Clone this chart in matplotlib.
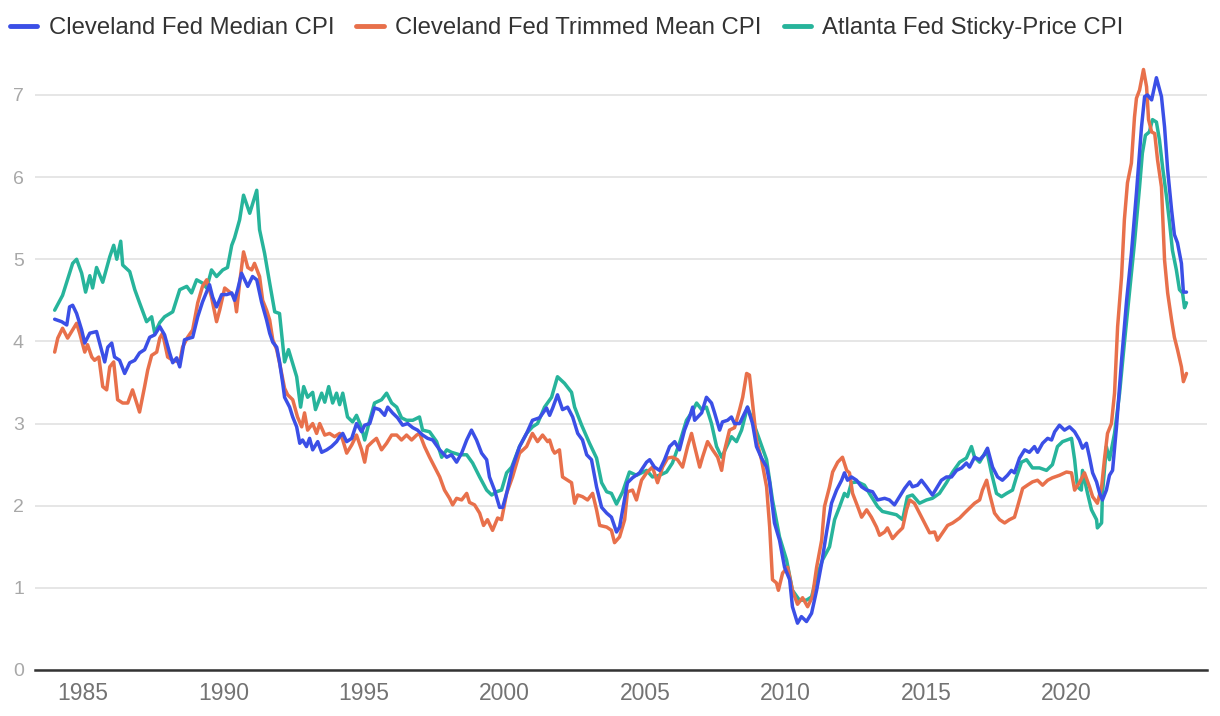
import matplotlib
matplotlib.use("Agg")
import matplotlib.pyplot as plt

plt.rcParams['font.family'] = ['Liberation Sans', 'DejaVu Sans']

# year-over-year inflation, %
median_years = [
    1984.00, 1984.25, 1984.43, 1984.53, 1984.64, 1984.78, 1984.96, 1985.07, 1985.25, 1985.49,
    1985.60, 1985.78, 1985.89, 1986.03, 1986.13, 1986.31, 1986.49, 1986.67, 1986.85, 1987.02,
    1987.20, 1987.38, 1987.56, 1987.74, 1987.91, 1988.09, 1988.20, 1988.34, 1988.45, 1988.62,
    1988.80, 1988.91, 1989.09, 1989.26, 1989.51, 1989.62, 1989.76, 1989.94, 1990.12, 1990.30,
    1990.40, 1990.51, 1990.65, 1990.76, 1990.87, 1991.04, 1991.19, 1991.36, 1991.54, 1991.65,
    1991.76, 1991.90, 1992.00, 1992.11, 1992.18, 1992.36, 1992.47, 1992.61, 1992.72, 1992.82,
    1992.96, 1993.07, 1993.18, 1993.36, 1993.50, 1993.68, 1993.85, 1994.03, 1994.14, 1994.25,
    1994.39, 1994.57, 1994.74, 1994.92, 1995.03, 1995.21, 1995.38, 1995.56, 1995.74, 1995.85,
    1996.02, 1996.20, 1996.38, 1996.56, 1996.74, 1996.91, 1997.09, 1997.27, 1997.45, 1997.70,
    1997.95, 1998.12, 1998.30, 1998.48, 1998.66, 1998.83, 1999.01, 1999.19, 1999.37, 1999.47,
    1999.65, 1999.83, 1999.94, 2000.08, 2000.29, 2000.54, 2000.79, 2001.00, 2001.25, 2001.50,
    2001.61, 2001.72, 2001.89, 2002.07, 2002.25, 2002.43, 2002.61, 2002.78, 2002.93, 2003.10,
    2003.28, 2003.46, 2003.64, 2003.81, 2003.99, 2004.10, 2004.21, 2004.38, 2004.56, 2004.81,
    2005.06, 2005.17, 2005.34, 2005.52, 2005.70, 2005.88, 2006.06, 2006.23, 2006.41, 2006.59,
    2006.70, 2006.77, 2007.02, 2007.19, 2007.37, 2007.48, 2007.66, 2007.76, 2007.94, 2008.08,
    2008.19, 2008.37, 2008.65, 2008.83, 2008.97, 2009.15, 2009.33, 2009.44, 2009.61, 2009.79,
    2009.97, 2010.15, 2010.25, 2010.43, 2010.57, 2010.75, 2010.93, 2011.11, 2011.29, 2011.46,
    2011.64, 2011.82, 2012.00, 2012.10, 2012.21, 2012.35, 2012.53, 2012.71, 2012.89, 2013.10,
    2013.28, 2013.53, 2013.70, 2013.88, 2014.06, 2014.24, 2014.42, 2014.52, 2014.70, 2014.84,
    2015.02, 2015.23, 2015.41, 2015.55, 2015.73, 2015.91, 2016.09, 2016.27, 2016.44, 2016.55,
    2016.73, 2016.91, 2017.08, 2017.19, 2017.37, 2017.55, 2017.72, 2017.90, 2018.04, 2018.15,
    2018.33, 2018.51, 2018.68, 2018.86, 2018.97, 2019.15, 2019.33, 2019.47, 2019.58, 2019.75,
    2019.93, 2020.11, 2020.29, 2020.46, 2020.57, 2020.71, 2020.82, 2020.93, 2021.07, 2021.18,
    2021.28, 2021.42, 2021.53, 2021.64, 2021.78, 2021.96, 2022.14, 2022.31, 2022.49, 2022.67,
    2022.78, 2022.88, 2023.03, 2023.20, 2023.38, 2023.49, 2023.60, 2023.74, 2023.84, 2023.95,
    2024.09, 2024.16, 2024.27]
median_vals = [
    4.27, 4.24, 4.20, 4.42, 4.44, 4.34, 4.14, 3.98, 4.10, 4.12,
    3.98, 3.75, 3.93, 3.98, 3.81, 3.77, 3.61, 3.74, 3.77, 3.86,
    3.90, 4.05, 4.08, 4.18, 4.08, 3.86, 3.74, 3.80, 3.69, 4.02,
    4.04, 4.05, 4.30, 4.48, 4.69, 4.54, 4.42, 4.57, 4.57, 4.59,
    4.50, 4.63, 4.83, 4.75, 4.67, 4.79, 4.75, 4.48, 4.26, 4.10,
    3.99, 3.93, 3.75, 3.50, 3.32, 3.20, 3.08, 2.96, 2.76, 2.80,
    2.72, 2.82, 2.68, 2.78, 2.65, 2.68, 2.72, 2.78, 2.84, 2.88,
    2.78, 2.82, 3.00, 2.90, 2.98, 3.00, 3.19, 3.17, 3.10, 3.20,
    3.13, 3.07, 2.98, 3.00, 2.95, 2.92, 2.86, 2.82, 2.80, 2.68,
    2.59, 2.62, 2.53, 2.64, 2.80, 2.92, 2.80, 2.64, 2.56, 2.35,
    2.19, 1.98, 1.98, 2.15, 2.47, 2.72, 2.88, 3.04, 3.07, 3.19,
    3.10, 3.19, 3.35, 3.17, 3.20, 3.08, 2.88, 2.80, 2.62, 2.56,
    2.23, 1.98, 1.91, 1.86, 1.68, 1.74, 1.95, 2.28, 2.34, 2.40,
    2.53, 2.56, 2.47, 2.43, 2.56, 2.72, 2.78, 2.68, 2.92, 3.08,
    3.20, 3.04, 3.13, 3.32, 3.25, 3.13, 2.92, 3.02, 3.04, 3.08,
    3.00, 3.00, 3.20, 3.00, 2.72, 2.58, 2.47, 2.28, 1.79, 1.58,
    1.25, 1.10, 0.77, 0.57, 0.65, 0.59, 0.69, 0.97, 1.30, 1.67,
    2.03, 2.19, 2.31, 2.40, 2.31, 2.35, 2.31, 2.23, 2.19, 2.17,
    2.07, 2.09, 2.07, 2.01, 2.11, 2.21, 2.29, 2.23, 2.25, 2.31,
    2.23, 2.13, 2.23, 2.31, 2.35, 2.35, 2.43, 2.46, 2.52, 2.47,
    2.59, 2.56, 2.62, 2.70, 2.47, 2.35, 2.31, 2.37, 2.43, 2.40,
    2.58, 2.68, 2.65, 2.72, 2.65, 2.76, 2.82, 2.80, 2.90, 2.98,
    2.92, 2.96, 2.90, 2.80, 2.70, 2.76, 2.59, 2.40, 2.29, 2.15,
    2.07, 2.19, 2.37, 2.43, 2.96, 3.77, 4.50, 5.07, 5.81, 6.61,
    6.98, 7.00, 6.94, 7.21, 6.98, 6.61, 6.09, 5.60, 5.30, 5.20,
    4.95, 4.60, 4.60]

trimmed_years = [
    1984.00, 1984.11, 1984.28, 1984.46, 1984.64, 1984.78, 1984.89, 1985.07, 1985.17, 1985.32,
    1985.42, 1985.57, 1985.71, 1985.85, 1985.96, 1986.10, 1986.24, 1986.42, 1986.60, 1986.77,
    1986.92, 1987.02, 1987.20, 1987.31, 1987.45, 1987.63, 1987.74, 1987.84, 1988.02, 1988.20,
    1988.45, 1988.55, 1988.73, 1988.91, 1989.09, 1989.26, 1989.41, 1989.58, 1989.76, 1989.87,
    1990.05, 1990.23, 1990.40, 1990.47, 1990.58, 1990.72, 1990.87, 1991.01, 1991.11, 1991.29,
    1991.40, 1991.54, 1991.65, 1991.76, 1991.90, 1992.00, 1992.18, 1992.29, 1992.47, 1992.64,
    1992.79, 1992.89, 1993.00, 1993.18, 1993.32, 1993.43, 1993.61, 1993.78, 1993.96, 1994.14,
    1994.25, 1994.39, 1994.57, 1994.74, 1994.92, 1995.03, 1995.13, 1995.31, 1995.45, 1995.63,
    1995.81, 1995.99, 1996.17, 1996.34, 1996.52, 1996.70, 1996.88, 1996.98, 1997.16, 1997.34,
    1997.52, 1997.70, 1997.87, 1998.05, 1998.16, 1998.30, 1998.48, 1998.66, 1998.76, 1998.94,
    1999.12, 1999.26, 1999.40, 1999.58, 1999.76, 1999.90, 2000.08, 2000.29, 2000.54, 2000.79,
    2001.00, 2001.18, 2001.36, 2001.54, 2001.61, 2001.72, 2001.79, 2001.96, 2002.07, 2002.25,
    2002.39, 2002.50, 2002.61, 2002.78, 2002.96, 2003.14, 2003.28, 2003.39, 2003.64, 2003.81,
    2003.92, 2004.10, 2004.28, 2004.38, 2004.56, 2004.70, 2004.88, 2005.06, 2005.27, 2005.45,
    2005.63, 2005.81, 2005.98, 2006.16, 2006.34, 2006.52, 2006.66, 2006.77, 2006.95, 2007.05,
    2007.23, 2007.41, 2007.59, 2007.73, 2007.84, 2008.01, 2008.19, 2008.37, 2008.48, 2008.62,
    2008.72, 2008.83, 2008.97, 2009.15, 2009.33, 2009.44, 2009.54, 2009.68, 2009.75, 2009.90,
    2010.08, 2010.25, 2010.43, 2010.61, 2010.79, 2010.96, 2011.11, 2011.29, 2011.39, 2011.57,
    2011.68, 2011.86, 2012.03, 2012.18, 2012.28, 2012.39, 2012.57, 2012.71, 2012.89, 2013.06,
    2013.24, 2013.35, 2013.53, 2013.63, 2013.81, 2013.99, 2014.17, 2014.31, 2014.42, 2014.59,
    2014.77, 2014.95, 2015.13, 2015.31, 2015.41, 2015.59, 2015.77, 2015.95, 2016.20, 2016.37,
    2016.55, 2016.73, 2016.91, 2017.01, 2017.16, 2017.26, 2017.44, 2017.62, 2017.80, 2017.97,
    2018.15, 2018.26, 2018.44, 2018.61, 2018.79, 2018.97, 2019.15, 2019.33, 2019.50, 2019.75,
    2020.00, 2020.18, 2020.29, 2020.46, 2020.64, 2020.82, 2020.93, 2021.10, 2021.25, 2021.35,
    2021.46, 2021.60, 2021.71, 2021.82, 2021.96, 2022.06, 2022.17, 2022.31, 2022.42, 2022.49,
    2022.60, 2022.74, 2022.85, 2022.92, 2023.03, 2023.14, 2023.24, 2023.38, 2023.49, 2023.60,
    2023.74, 2023.84, 2023.95, 2024.09, 2024.16, 2024.27]
trimmed_vals = [
    3.87, 4.04, 4.16, 4.04, 4.14, 4.22, 4.10, 3.87, 3.96, 3.81,
    3.77, 3.81, 3.45, 3.41, 3.69, 3.75, 3.29, 3.25, 3.25, 3.41,
    3.25, 3.14, 3.45, 3.65, 3.83, 3.87, 4.04, 4.10, 3.81, 3.77,
    3.75, 3.93, 4.05, 4.14, 4.47, 4.67, 4.75, 4.54, 4.24, 4.38,
    4.65, 4.60, 4.54, 4.36, 4.71, 5.09, 4.90, 4.87, 4.95, 4.79,
    4.50, 4.38, 4.26, 4.02, 3.90, 3.74, 3.43, 3.35, 3.29, 3.08,
    2.96, 3.13, 2.92, 3.00, 2.88, 3.00, 2.86, 2.88, 2.84, 2.88,
    2.80, 2.64, 2.74, 2.86, 2.68, 2.53, 2.72, 2.78, 2.82, 2.68,
    2.76, 2.86, 2.86, 2.80, 2.86, 2.80, 2.86, 2.88, 2.72, 2.59,
    2.47, 2.35, 2.19, 2.09, 2.01, 2.09, 2.07, 2.15, 2.04, 2.01,
    1.91, 1.76, 1.83, 1.70, 1.85, 1.83, 2.15, 2.35, 2.64, 2.72,
    2.88, 2.78, 2.86, 2.78, 2.80, 2.68, 2.64, 2.68, 2.35, 2.31,
    2.28, 2.03, 2.13, 2.11, 2.07, 2.15, 1.95, 1.76, 1.74, 1.70,
    1.55, 1.62, 1.83, 2.17, 2.19, 2.07, 2.31, 2.40, 2.47, 2.28,
    2.47, 2.58, 2.59, 2.56, 2.47, 2.72, 2.88, 2.72, 2.47, 2.59,
    2.78, 2.68, 2.59, 2.43, 2.68, 2.92, 2.95, 3.17, 3.32, 3.61,
    3.59, 3.25, 2.80, 2.56, 2.23, 1.74, 1.10, 1.06, 0.97, 1.18,
    1.25, 0.97, 0.80, 0.88, 0.77, 0.89, 1.25, 1.58, 1.99, 2.23,
    2.41, 2.53, 2.59, 2.43, 2.40, 2.15, 1.99, 1.86, 1.95, 1.86,
    1.74, 1.64, 1.68, 1.73, 1.60, 1.67, 1.73, 1.95, 2.07, 2.03,
    1.91, 1.79, 1.67, 1.68, 1.58, 1.67, 1.76, 1.79, 1.85, 1.91,
    1.97, 2.03, 2.07, 2.19, 2.31, 2.15, 1.91, 1.83, 1.79, 1.83,
    1.86, 1.99, 2.21, 2.25, 2.29, 2.31, 2.25, 2.31, 2.34, 2.37,
    2.41, 2.40, 2.19, 2.28, 2.40, 2.23, 2.11, 2.03, 2.23, 2.56,
    2.88, 3.00, 3.37, 4.18, 4.79, 5.48, 5.93, 6.17, 6.73, 6.96,
    7.06, 7.31, 7.10, 6.70, 6.55, 6.53, 6.21, 5.88, 4.99, 4.59,
    4.26, 4.05, 3.90, 3.69, 3.51, 3.61]

sticky_years = [
    1984.00, 1984.28, 1984.64, 1984.78, 1984.96, 1985.10, 1985.25, 1985.35, 1985.49, 1985.71,
    1985.96, 1986.10, 1986.21, 1986.35, 1986.42, 1986.67, 1986.85, 1987.02, 1987.27, 1987.45,
    1987.56, 1987.74, 1987.91, 1988.20, 1988.45, 1988.70, 1988.87, 1989.05, 1989.26, 1989.41,
    1989.58, 1989.76, 1989.98, 1990.15, 1990.30, 1990.40, 1990.58, 1990.72, 1990.94, 1991.19,
    1991.29, 1991.47, 1991.65, 1991.83, 1992.00, 1992.18, 1992.32, 1992.61, 1992.75, 1992.86,
    1993.00, 1993.18, 1993.28, 1993.50, 1993.61, 1993.75, 1993.89, 1994.03, 1994.14, 1994.25,
    1994.42, 1994.60, 1994.74, 1994.92, 1995.03, 1995.21, 1995.38, 1995.63, 1995.81, 1995.99,
    1996.17, 1996.34, 1996.52, 1996.74, 1996.98, 1997.09, 1997.34, 1997.59, 1997.77, 1997.95,
    1998.12, 1998.41, 1998.66, 1998.87, 1999.12, 1999.37, 1999.55, 1999.72, 1999.90, 2000.08,
    2000.26, 2000.54, 2000.79, 2001.00, 2001.18, 2001.43, 2001.68, 2001.89, 2002.14, 2002.39,
    2002.50, 2002.75, 2003.03, 2003.28, 2003.46, 2003.64, 2003.81, 2003.99, 2004.21, 2004.45,
    2004.70, 2005.06, 2005.27, 2005.52, 2005.77, 2005.98, 2006.23, 2006.48, 2006.66, 2006.84,
    2007.02, 2007.19, 2007.37, 2007.55, 2007.73, 2007.91, 2008.08, 2008.26, 2008.44, 2008.65,
    2008.83, 2009.08, 2009.33, 2009.54, 2009.79, 2010.04, 2010.25, 2010.50, 2010.75, 2010.93,
    2011.11, 2011.32, 2011.57, 2011.75, 2011.93, 2012.10, 2012.21, 2012.35, 2012.57, 2012.81,
    2013.06, 2013.28, 2013.45, 2013.70, 2013.95, 2014.17, 2014.34, 2014.52, 2014.77, 2015.02,
    2015.23, 2015.48, 2015.73, 2015.95, 2016.20, 2016.44, 2016.62, 2016.73, 2016.91, 2017.16,
    2017.33, 2017.51, 2017.69, 2017.87, 2018.08, 2018.22, 2018.40, 2018.58, 2018.79, 2019.04,
    2019.29, 2019.50, 2019.68, 2019.86, 2020.18, 2020.29, 2020.39, 2020.53, 2020.57, 2020.75,
    2020.89, 2021.07, 2021.10, 2021.25, 2021.28, 2021.42, 2021.53, 2021.71, 2021.89, 2022.06,
    2022.24, 2022.42, 2022.60, 2022.70, 2022.81, 2022.95, 2023.06, 2023.20, 2023.31, 2023.42,
    2023.56, 2023.67, 2023.77, 2023.91, 2024.02, 2024.13, 2024.20, 2024.27]
sticky_vals = [
    4.38, 4.56, 4.95, 5.00, 4.83, 4.60, 4.80, 4.65, 4.90, 4.72,
    5.03, 5.17, 5.00, 5.22, 4.93, 4.85, 4.63, 4.47, 4.24, 4.30,
    4.10, 4.23, 4.30, 4.36, 4.63, 4.67, 4.59, 4.75, 4.71, 4.65,
    4.87, 4.79, 4.87, 4.90, 5.17, 5.26, 5.48, 5.78, 5.56, 5.84,
    5.36, 5.07, 4.71, 4.36, 4.34, 3.75, 3.90, 3.57, 3.20, 3.45,
    3.32, 3.38, 3.17, 3.37, 3.26, 3.45, 3.25, 3.37, 3.23, 3.37,
    3.08, 3.02, 3.10, 2.95, 2.80, 3.04, 3.25, 3.29, 3.37, 3.25,
    3.20, 3.07, 3.04, 3.04, 3.08, 2.92, 2.90, 2.78, 2.59, 2.68,
    2.65, 2.62, 2.62, 2.52, 2.35, 2.19, 2.13, 2.17, 2.19, 2.40,
    2.47, 2.72, 2.88, 2.96, 3.00, 3.20, 3.32, 3.57, 3.49, 3.38,
    3.20, 2.98, 2.76, 2.58, 2.28, 2.17, 2.15, 2.02, 2.17, 2.41,
    2.37, 2.43, 2.35, 2.37, 2.41, 2.52, 2.76, 3.04, 3.13, 3.25,
    3.17, 3.20, 3.00, 2.72, 2.59, 2.72, 2.84, 2.78, 2.92, 3.20,
    3.04, 2.80, 2.56, 2.07, 1.62, 1.34, 0.97, 0.85, 0.85, 0.89,
    1.13, 1.34, 1.50, 1.83, 1.99, 2.15, 2.11, 2.28, 2.29, 2.25,
    2.11, 1.99, 1.93, 1.91, 1.89, 1.83, 2.11, 2.13, 2.03, 2.07,
    2.09, 2.15, 2.28, 2.41, 2.53, 2.58, 2.72, 2.59, 2.53, 2.68,
    2.40, 2.15, 2.11, 2.15, 2.19, 2.35, 2.53, 2.56, 2.46, 2.46,
    2.43, 2.50, 2.72, 2.78, 2.82, 2.56, 2.23, 2.19, 2.43, 2.15,
    1.95, 1.83, 1.73, 1.79, 2.15, 2.72, 2.56, 2.88, 3.37, 3.98,
    4.59, 5.20, 5.88, 6.29, 6.51, 6.55, 6.70, 6.67, 6.45, 6.12,
    5.76, 5.44, 5.11, 4.87, 4.63, 4.59, 4.41, 4.47]

year_ticks = [1985, 1990, 1995, 2000, 2005, 2010, 2015, 2020]
y_ticks = [0, 1, 2, 3, 4, 5, 6, 7]

series = [
    ("Cleveland Fed Median CPI", median_years, median_vals, "#3b4fe6", 4),
    ("Cleveland Fed Trimmed Mean CPI", trimmed_years, trimmed_vals, "#e8704b", 3),
    ("Atlanta Fed Sticky-Price CPI", sticky_years, sticky_vals, "#27b49b", 2),
]

fig = plt.figure(figsize=(12.2, 7.16), dpi=100)
ax = fig.add_axes([35 / 1220, 46 / 716, 1172 / 1220, 612 / 716])

handles = []
for name, xs, ys, col, z in series:
    line, = ax.plot(xs, ys, color=col, lw=2.5, zorder=z, label=name,
                    solid_joinstyle="round", solid_capstyle="round")
    handles.append(line)

ax.set_xlim(1983.3, 2025.0)
ax.set_ylim(0, 7.45)
ax.set_xticks(year_ticks)
ax.set_yticks(y_ticks)
ax.grid(axis="y", color="#e6e6e6", lw=1.4)
ax.set_axisbelow(True)
for side in ["top", "right", "left"]:
    ax.spines[side].set_visible(False)
ax.spines["bottom"].set_color("#333333")
ax.spines["bottom"].set_linewidth(1.8)
ax.spines["bottom"].set_zorder(5)
ax.tick_params(axis="both", length=0)
ax.tick_params(axis="x", labelsize=16.5, labelcolor="#737373", pad=9)
ax.tick_params(axis="y", labelsize=14, labelcolor="#a8a8a8", pad=8)

leg = fig.legend(handles=handles, loc="center left", bbox_to_anchor=(10 / 1220, 1 - 28 / 716),
                 ncol=3, frameon=False, fontsize=17.2, borderpad=0, borderaxespad=0,
                 handlelength=1.15, handletextpad=0.47, columnspacing=0.93)
for h in leg.legend_handles:
    h.set_linewidth(3.5)
    h.set_solid_capstyle("round")
for t in leg.get_texts():
    t.set_color("#333333")

fig.savefig("out.png", dpi=100)
